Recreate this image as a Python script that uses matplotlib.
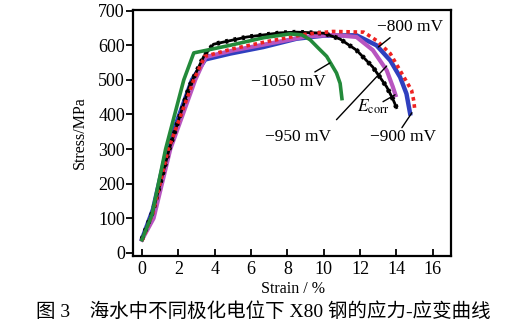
import matplotlib
matplotlib.use("Agg")
import matplotlib.pyplot as plt

# strain (%) / stress (MPa)
strain_1050 = [0, 0.55, 1.3, 2.3, 2.85, 4.85, 6.7, 8.15, 8.8, 9.25, 9.7, 10.16, 10.7, 10.9, 11.0]
stress_1050 = [38, 110, 300, 500, 578, 600, 622, 633, 630, 616, 592, 568, 520, 490, 446]

strain_950 = [0, 0.6, 1.5, 2.6, 3.4, 3.93, 5.77, 7.6, 8.5, 10.0, 10.9, 11.8, 12.7, 13.46, 13.8, 14.0]
stress_950 = [40, 120, 300, 480, 568, 603, 624, 636, 638, 635, 618, 586, 537, 480, 445, 420]

strain_900 = [0, 0.6, 1.37, 2.75, 3.48, 4.85, 6.68, 8.5, 10.0, 11.8, 12.9, 13.66, 14.2, 14.55, 14.75]
stress_900 = [40, 125, 300, 500, 559, 576, 595, 619, 628, 629, 600, 556, 508, 460, 403]

strain_corr = [0, 0.64, 1.56, 2.93, 3.5, 5.0, 7.0, 9.0, 10.5, 11.8, 12.7, 13.46, 13.8, 13.95]
stress_corr = [38, 100, 300, 500, 566, 585, 605, 625, 630, 624, 586, 528, 480, 456]

strain_800 = [0, 0.6, 1.45, 2.85, 3.45, 5.0, 7.0, 9.0, 10.5, 12.2, 12.9, 13.66, 14.4, 14.83, 14.95, 15.0]
stress_800 = [35, 115, 300, 500, 568, 590, 612, 632, 640, 638, 614, 576, 509, 470, 440, 417]

x_ticks = [0, 2, 4, 6, 8, 10, 12, 14, 16]
y_ticks = [0, 100, 200, 300, 400, 500, 600, 700]

plt.rcParams["font.family"] = ["Liberation Serif", "Noto Sans CJK SC"]
plt.rcParams["mathtext.fontset"] = "stix"

fig = plt.figure(figsize=(5.24, 3.27), dpi=100)
ax = fig.add_axes([0.2529, 0.2171, 0.6078, 0.7523])

ax.plot(strain_900, stress_900, color="#2f3fbf", lw=3.2, zorder=2)
ax.plot(strain_corr, stress_corr, color="#b855c0", lw=3.0, zorder=3)
ax.plot(strain_800, stress_800, color="#ee2222", lw=2.6, ls=(0, (1, 1)), zorder=4)
ax.plot(strain_950, stress_950, color="black", lw=2.0, zorder=3)
ax.plot(strain_950, stress_950, color="black", lw=3.4, ls=(0, (0.6, 1.2)), zorder=3)
ax.plot(strain_1050, stress_1050, color="#238a3a", lw=2.6, zorder=5)

ax.set_xlim(-0.52, 17.0)
ax.set_ylim(-9, 702)
ax.set_xticks(x_ticks)
ax.set_yticks(y_ticks)
ax.tick_params(axis="x", direction="in", length=5, width=1.3, pad=3.5, labelsize=13)
ax.tick_params(axis="y", direction="out", length=5, width=1.3, pad=0.5, labelsize=13)
for s in ax.spines.values():
    s.set_linewidth(1.6)

ax.set_xlabel("Strain / %", fontsize=11.5)
ax.set_ylabel("Stress/MPa", fontsize=11.5)
ax.xaxis.set_label_coords(0.504, -0.10)
ax.yaxis.set_label_coords(-0.139, 0.5)

line = dict(arrowstyle="-", color="black", lw=1.0, shrinkA=0, shrinkB=0)
labels = [
    ("\u2212800 mV", (14.74, 653), (13.65, 622), (13.0, 595)),
    ("\u22121050 mV", (8.05, 494), (9.51, 523), (10.34, 549)),
    ("\u2212950 mV", (8.6, 336), (10.7, 385), (13.46, 540)),
    (r"$E_{\rm corr}$", (12.7, 422), (13.26, 437), (13.92, 457)),
    ("\u2212900 mV", (14.35, 336), (14.3, 362), (14.85, 405)),
]
for txt, pos, start, end in labels:
    ax.text(pos[0], pos[1], txt, fontsize=12.5, ha="center", va="center", zorder=6)
    ax.annotate("", xy=end, xytext=start, arrowprops=line, zorder=6)

fig.text(0.502, 0.047, "图 3\u2003海水中不同极化电位下 X80 钢的应力-应变曲线",
         fontsize=14, ha="center", va="center")

fig.savefig("out.png", dpi=100)
